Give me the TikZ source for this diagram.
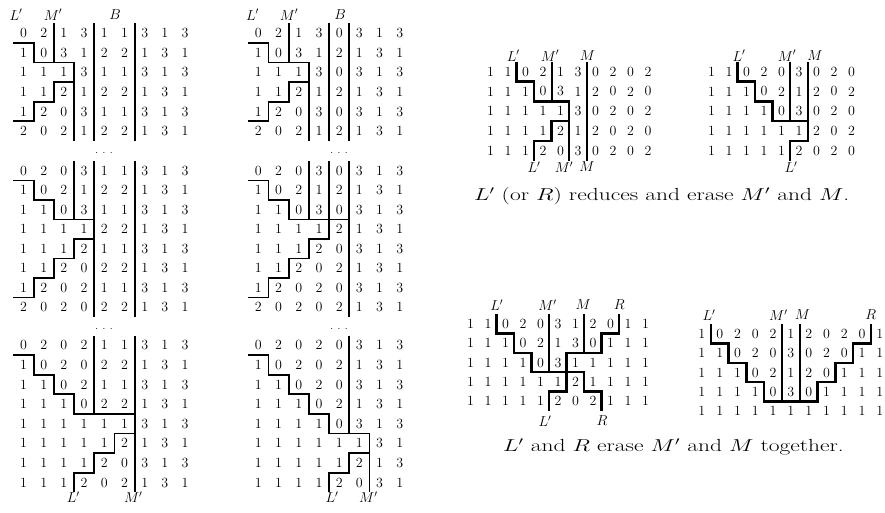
\documentclass[tikz,border=0pt]{standalone}
\newcommand\digitgrid[2]{%
  \foreach \rw [count=\r from 0] in {#2} {
    \foreach \d [count=\c from 0] in \rw {
      \node[dig] (#1-\r-\c) at (\c+0.5,\r+0.5) {\d};
    }
  }%
}
\newcommand\mydots{$\cdot$\hspace{4.5pt}$\cdot$\hspace{4.5pt}$\cdot$}
\begin{document}
\begin{tikzpicture}[x=1pt,y=-1pt,
  dig/.style={font=\fontsize{14}{14}\selectfont, inner sep=0pt},
  lab/.style={font=\fontsize{14}{14}\selectfont, inner sep=0pt},
  captxt/.style={font=\fontsize{17.5}{18}\selectfont, inner sep=0pt},
  ln/.style={line width=1.8pt},
  tk/.style={line width=2.5pt},
  dts/.style={font=\fontsize{10}{10}\selectfont, inner sep=0pt}]
\useasboundingbox (0,0) rectangle (885,513);

% ---------- Grid A ----------
\begin{scope}[shift={(13.4,23.3)}, xscale=20.2, yscale=19.6]
  \digitgrid{a}{{0,2,1,3,1,1,3,1,3},{1,0,3,1,2,2,1,3,1},{1,1,1,3,1,1,3,1,3},{1,1,2,1,2,2,1,3,1},{1,2,0,3,1,1,3,1,3},{2,0,2,1,2,2,1,3,1}}
  \draw[ln] (2,0) -- (2,2);
  \draw[ln] (0,1) -| (1,2) -| (3,6);
  \draw[ln] (3,3) -| (2,4) -| (1,5) -- (0,5);
  \draw[ln] (4,0) -- (4,6);
  \draw[ln] (6,0) -- (6,6);
\end{scope}
\node[lab] (aL) at (16,14.7) {$L'$};
\node[lab] (aM) at (53,14.7) {$M'$};
\node[lab] (aB) at (115,14.7) {$B$};

% ---------- Grid B ----------
\begin{scope}[shift={(248.3,23.3)}, xscale=20.2, yscale=19.6]
  \digitgrid{b}{{0,2,1,3,0,3,1,3},{1,0,3,1,2,1,3,1},{1,1,1,3,0,3,1,3},{1,1,2,1,2,1,3,1},{1,2,0,3,0,3,1,3},{2,0,2,1,2,1,3,1}}
  \draw[ln] (2,0) -- (2,2);
  \draw[ln] (0,1) -| (1,2) -| (3,6);
  \draw[ln] (3,3) -| (2,4) -| (1,5) -- (0,5);
  \draw[ln] (4,0) -- (4,6);
  \draw[ln] (5,0) -- (5,6);
\end{scope}
\node[lab] (bL) at (252.5,14.7) {$L'$};
\node[lab] (bM) at (289,14.7) {$M'$};
\node[lab] (bB) at (340,14.7) {$B$};

\node[dts] (d1) at (104,153) {\mydots};
\node[dts] (d2) at (339,153) {\mydots};

% ---------- Grid C ----------
\begin{scope}[shift={(13.4,161)}, xscale=20.2, yscale=19.5]
  \digitgrid{c}{{0,2,0,3,1,1,3,1,3},{1,0,2,1,2,2,1,3,1},{1,1,0,3,1,1,3,1,3},{1,1,1,1,2,2,1,3,1},{1,1,1,2,1,1,3,1,3},{1,1,2,0,2,2,1,3,1},{1,2,0,2,1,1,3,1,3},{2,0,2,0,2,2,1,3,1}}
  \draw[ln] (0,1) -| (1,2) -| (2,3) -- (4,3);
  \draw[ln] (3,0) -- (3,3);
  \draw[ln] (4,0) -- (4,8);
  \draw[ln] (6,0) -- (6,8);
  \draw[ln] (4,4) -| (3,5) -| (2,6) -| (1,7) -- (0,7);
\end{scope}

% ---------- Grid D ----------
\begin{scope}[shift={(248.3,161)}, xscale=20.2, yscale=19.5]
  \digitgrid{d}{{0,2,0,3,0,3,1,3},{1,0,2,1,2,1,3,1},{1,1,0,3,0,3,1,3},{1,1,1,1,2,1,3,1},{1,1,1,2,0,3,1,3},{1,1,2,0,2,1,3,1},{1,2,0,2,0,3,1,3},{2,0,2,0,2,1,3,1}}
  \draw[ln] (0,1) -| (1,2) -| (2,3) -- (5,3);
  \draw[ln] (3,0) -- (3,3);
  \draw[ln] (4,0) -- (4,4) -| (3,5) -| (2,6) -| (1,7) -- (0,7);
  \draw[ln] (5,0) -- (5,8);
\end{scope}

\node[dts] (d3) at (104,329.3) {\mydots};
\node[dts] (d4) at (339,329.3) {\mydots};

% ---------- Grid E ----------
\begin{scope}[shift={(13.4,335.5)}, xscale=20.2, yscale=19.6]
  \digitgrid{e}{{0,2,0,2,1,1,3,1,3},{1,0,2,0,2,2,1,3,1},{1,1,0,2,1,1,3,1,3},{1,1,1,0,2,2,1,3,1},{1,1,1,1,1,1,3,1,3},{1,1,1,1,1,2,1,3,1},{1,1,1,1,2,0,3,1,3},{1,1,1,2,0,2,1,3,1}}
  \draw[ln] (0,1) -| (1,2) -| (2,3) -| (3,4) -- (6,4);
  \draw[ln] (4,0) -- (4,4);
  \draw[ln] (6,0) -- (6,8);
  \draw[ln] (6,5) -| (5,6) -| (4,7) -| (3,8);
\end{scope}
\node[lab] (eL) at (73.3,497) {$L'$};
\node[lab] (eM) at (133.3,497) {$M'$};

% ---------- Grid F ----------
\begin{scope}[shift={(248.3,335.5)}, xscale=20.2, yscale=19.6]
  \digitgrid{f}{{0,2,0,2,0,3,1,3},{1,0,2,0,2,1,3,1},{1,1,0,2,0,3,1,3},{1,1,1,0,2,1,3,1},{1,1,1,1,0,3,1,3},{1,1,1,1,1,1,3,1},{1,1,1,1,1,2,1,3},{1,1,1,1,2,0,3,1}}
  \draw[ln] (0,1) -| (1,2) -| (2,3) -| (3,4) -| (4,5) -- (6,5);
  \draw[ln] (5,0) -- (5,5);
  \draw[ln] (6,5) -- (6,8);
  \draw[ln] (6,6) -| (5,7) -| (4,8);
\end{scope}
\node[lab] (fL) at (332,497) {$L'$};
\node[lab] (fM) at (368.3,497) {$M'$};

% ---------- Grid G ----------
\begin{scope}[shift={(481.7,61.7)}, xscale=17.5, yscale=19.8]
  \digitgrid{g}{{1,1,0,2,1,3,0,2,0,2},{1,1,1,0,3,1,2,0,2,0},{1,1,1,1,1,3,0,2,0,2},{1,1,1,1,2,1,2,0,2,0},{1,1,1,2,0,3,0,2,0,2}}
  \draw[tk] (2,0) |- (3,1) |- (5,2) -- (5,5);
  \draw[ln] (4,0) -- (4,2);
  \draw[tk] (5,3) -| (4,4) -| (3,5);
  \draw[ln] (6,0) -- (6,5);
\end{scope}
\node[lab] (gL) at (513.3,55.8) {$L'$};
\node[lab] (gM) at (550,55.8) {$M'$};
\node[lab] (gN) at (587.5,55.8) {$M$};
\node[lab] (gL2) at (534,167) {$L'$};
\node[lab] (gM2) at (564,167) {$M'$};
\node[lab] (gN2) at (587,167) {$M$};

% ---------- Grid H ----------
\begin{scope}[shift={(702.7,61.7)}, xscale=17.5, yscale=19.8]
  \digitgrid{h}{{1,1,0,2,0,3,0,2,0},{1,1,1,0,2,1,2,0,2},{1,1,1,1,0,3,0,2,0},{1,1,1,1,1,1,2,0,2},{1,1,1,1,1,2,0,2,0}}
  \draw[tk] (2,0) |- (3,1) |- (4,2) |- (6,3);
  \draw[ln] (5,0) -- (5,3);
  \draw[ln] (6,0) -- (6,4) -| (5,5);
\end{scope}
\node[lab] (hL) at (739,55.8) {$L'$};
\node[lab] (hM) at (787,55.8) {$M'$};
\node[lab] (hN) at (815,55.8) {$M$};
\node[lab] (hL2) at (791,167) {$L'$};

\node[captxt] (cap1) at (661.7,196) {\scalebox{1.34}[1]{$L'$ (or $R$) reduces and erase $M'$ and $M$.}};

% ---------- Grid I ----------
\begin{scope}[shift={(461.7,314.3)}, xscale=17.5, yscale=19.3]
  \digitgrid{i}{{1,1,0,2,0,3,1,2,0,1,1},{1,1,1,0,2,1,3,0,1,1,1},{1,1,1,1,0,3,1,1,1,1,1},{1,1,1,1,1,1,2,1,1,1,1},{1,1,1,1,1,2,0,2,1,1,1}}
  \draw[tk] (2,0) |- (3,1) |- (4,2) |- (7,3) |- (8,4) -- (8,5);
  \draw[tk] (9,0) |- (8,1) |- (6,2) |- (5,4) -- (5,5);
  \draw[ln] (5,0) -- (5,3);
  \draw[ln] (7,0) -- (7,2);
\end{scope}
\node[lab] (iL) at (496.7,305) {$L'$};
\node[lab] (iM) at (547.5,305) {$M'$};
\node[lab] (iN) at (583.3,305) {$M$};
\node[lab] (iR) at (619.2,305) {$R$};
\node[lab] (iL2) at (545,421) {$L'$};
\node[lab] (iR2) at (602,421) {$R$};

% ---------- Grid J ----------
\begin{scope}[shift={(693,324)}, xscale=17.8, yscale=19.4]
  \digitgrid{j}{{1,0,2,0,2,1,2,0,2,0,1},{1,1,0,2,0,3,0,2,0,1,1},{1,1,1,0,2,1,2,0,1,1,1},{1,1,1,1,0,3,0,1,1,1,1},{1,1,1,1,1,1,1,1,1,1,1}}
  \draw[tk] (1,0) |- (2,1) |- (3,2) |- (4,3) |- (7,4) |- (8,3) |- (9,2) |- (10,1) -- (10,0);
  \draw[ln] (5,0) -- (5,4);
  \draw[ln] (6,0) -- (6,4);
\end{scope}
\node[lab] (jL) at (709,315) {$L'$};
\node[lab] (jM) at (778.3,315) {$M'$};
\node[lab] (jN) at (802.5,315) {$M$};
\node[lab] (jR) at (870.8,315) {$R$};

\node[captxt] (cap2) at (673.5,447) {\scalebox{1.34}[1]{$L'$ and $R$ erase $M'$ and $M$ together.}};
\end{tikzpicture}
\end{document}
